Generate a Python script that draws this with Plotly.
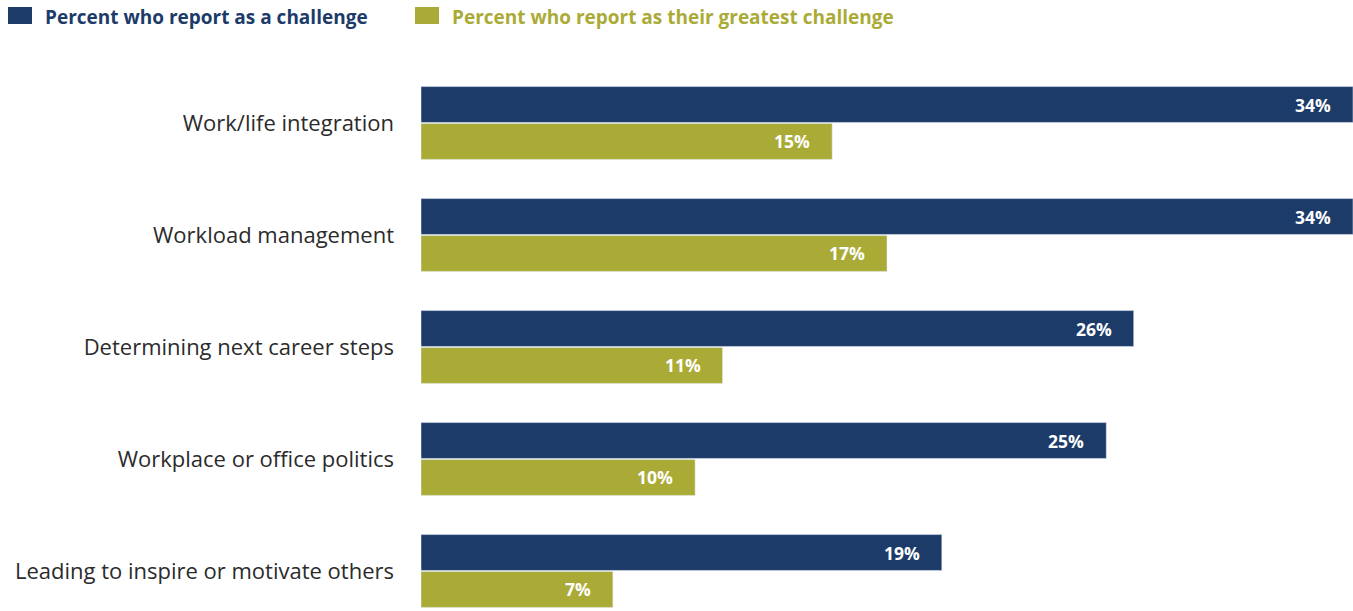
import plotly.graph_objects as go

categories = [
    "Work/life integration",
    "Workload management",
    "Determining next career steps",
    "Workplace or office politics",
    "Leading to inspire or motivate others",
]
challenge = [34, 34, 26, 25, 19]
greatest = [15, 17, 11, 10, 7]
series_names = ["Percent who report as a challenge", "Percent who report as their greatest challenge"]

NAVY = "#1d3b69"
OLIVE = "#aaab37"
FONT = "Open Sans"
W, H = 1353, 611
ML, MT = 421, 60

fig = go.Figure()
fig.add_trace(go.Bar(y=categories, x=challenge, orientation="h", marker_color=NAVY,
                     name=series_names[0], showlegend=False))
fig.add_trace(go.Bar(y=categories, x=greatest, orientation="h", marker_color=OLIVE,
                     name=series_names[1], showlegend=False))

# value labels at the inner end of each bar
for i, cat in enumerate(categories):
    for val, off in ((challenge[i], -0.163), (greatest[i], 0.163)):
        fig.add_annotation(x=val, y=i + off, xref="x", yref="y", text=f"<b>{val}%</b>",
                           showarrow=False, xanchor="right", xshift=-20,
                           font=dict(family=FONT, size=17.5, color="white"))

# legend drawn by hand: swatch + colored bold label
pw, ph = W - ML, H - MT
def px(x):
    return (x - ML) / pw
def py(y):
    return (H - y) / ph

for sx, tx, col, label in ((8, 45, NAVY, series_names[0]), (415, 452, OLIVE, series_names[1])):
    fig.add_shape(type="rect", xref="paper", yref="paper", x0=px(sx), x1=px(sx + 24),
                  y0=py(24), y1=py(7), fillcolor=col, line_width=0)
    fig.add_annotation(xref="paper", yref="paper", x=px(tx) - 0.002, y=py(17), text=f"<b>{label}</b>",
                       showarrow=False, xanchor="left", yanchor="middle",
                       font=dict(family=FONT, size=19, color=col))

fig.update_layout(
    width=W, height=H,
    margin=dict(l=ML, r=0, t=MT, b=0),
    barmode="group", bargap=0.34, bargroupgap=0.03,
    plot_bgcolor="white", paper_bgcolor="white",
    xaxis=dict(range=[0, 34], visible=False, fixedrange=True),
    yaxis=dict(type="category", categoryorder="array", categoryarray=categories,
               range=[(H - 123) / 112, -(123 - MT) / 112],
               showgrid=False, showline=False, ticks="", ticklabelstandoff=26,
               tickfont=dict(family=FONT, size=22, color="#2b2b2b")),
)

fig.write_html("out.html")
